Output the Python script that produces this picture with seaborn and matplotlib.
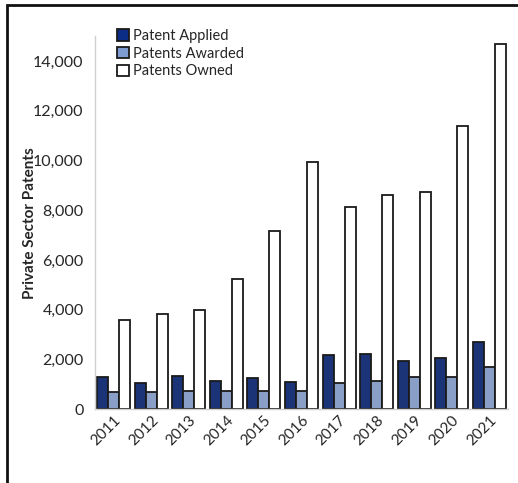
import numpy as np
import pandas as pd
import seaborn as sns
import matplotlib.pyplot as plt
from matplotlib.patches import Rectangle
from matplotlib.ticker import FuncFormatter

years = ['2011', '2012', '2013', '2014', '2015', '2016', '2017', '2018', '2019', '2020', '2021']
applied = [1300, 1040, 1345, 1130, 1240, 1090, 2180, 2235, 1940, 2075, 2695]
awarded = [690, 690, 740, 725, 740, 725, 1040, 1120, 1290, 1300, 1700]
owned = [3570, 3810, 3990, 5240, 7150, 9950, 8150, 8600, 8740, 11370, 14700]
series = ['Patent Applied', 'Patents Awarded', 'Patents Owned']
colors = ['#0b2d86', '#7f9cd2', '#ffffff']

df = pd.DataFrame({'Year': years * 3,
                   'Series': np.repeat(series, len(years)),
                   'Value': applied + awarded + owned})

sns.set_style('white')
plt.rcParams['font.family'] = ['Lato', 'DejaVu Sans']

fig = plt.figure(figsize=(5.18, 4.83), dpi=100)
ax = fig.add_axes([0.183, 0.153, 0.798, 0.772])

sns.barplot(data=df, x='Year', y='Value', hue='Series', palette=colors,
            width=0.88, edgecolor='#1a1a1a', linewidth=1.3, ax=ax, legend=False)

ax.set_ylim(0, 15000)
ax.set_xlim(-0.5, len(years) - 0.5)
ax.set_yticks(range(0, 15000, 2000))
ax.yaxis.set_major_formatter(FuncFormatter(lambda v, p: f'{int(v):,}'))
ax.tick_params(axis='y', length=4, color='#bfbfbf', labelsize=11.5, pad=4)
ax.tick_params(axis='x', length=0, labelsize=11, pad=3)
ax.set_xticks(range(len(years)))
ax.set_xticklabels(years, rotation=45, ha='right', rotation_mode='anchor')
ax.set_xticks(np.arange(0.5, len(years) - 0.5, 1), minor=True)
ax.tick_params(axis='x', which='minor', length=4, color='#bfbfbf')
ax.set_xlabel('')
ax.set_ylabel('Private Sector Patents', fontsize=11, fontweight='bold', labelpad=-3)

for s in ['top', 'right']:
    ax.spines[s].set_visible(False)
for s in ['left', 'bottom']:
    ax.spines[s].set_color('#d0d0d0')
    ax.spines[s].set_linewidth(1.0)

handles = [Rectangle((0, 0), 1, 1, facecolor=c, edgecolor='#1a1a1a', linewidth=1.3) for c in colors]
ax.legend(handles, series, loc='upper left', bbox_to_anchor=(0.04, 1.035), frameon=False,
          fontsize=10.5, handlelength=0.8, handleheight=0.8, handletextpad=0.3,
          labelspacing=0.25, borderaxespad=0)

# frame of the cropped screenshot: only top and left edges show
fig.add_artist(Rectangle((7 / 518, -0.5), 2.0, 1.5 - 5 / 483, transform=fig.transFigure,
                         fill=False, edgecolor='#111111', linewidth=2))

fig.savefig('out.png', dpi=100)
